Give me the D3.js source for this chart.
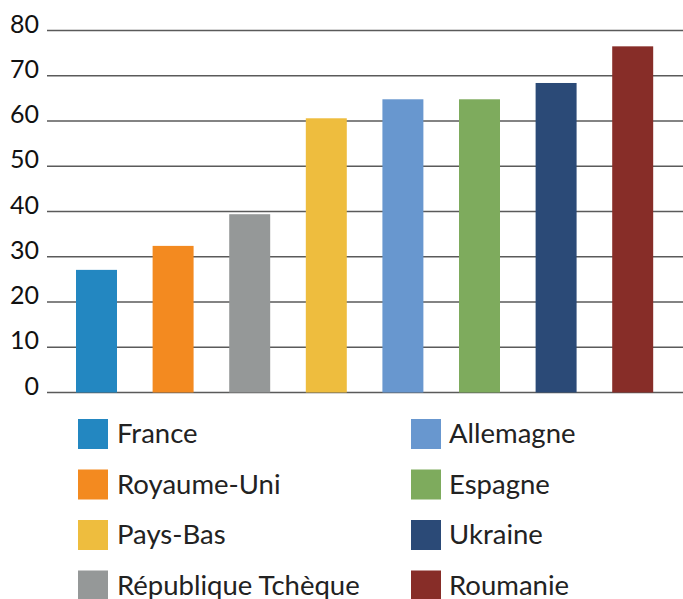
<!DOCTYPE html>
<html>
<head>
<meta charset="utf-8">
<script src="https://cdn.jsdelivr.net/npm/d3@7"></script>
<style>
  body { margin: 0; background: #fff; }
  svg { display: block; }
</style>
</head>
<body>
<div id="chart"></div>
<script>
const countries = ['France', 'Royaume-Uni', 'République Tchèque', 'Pays-Bas', 'Allemagne', 'Espagne', 'Ukraine', 'Roumanie'];
const values = [27.1, 32.4, 39.4, 60.6, 64.8, 64.8, 68.4, 76.5];
const colors = ['#2387c1', '#f38a20', '#959898', '#eebd3e', '#6897cf', '#7eab5d', '#2b4a77', '#872d28'];
const yTicks = [0, 10, 20, 30, 40, 50, 60, 70, 80];
// legend layout: left column then right column
const legendLeft = ['France', 'Royaume-Uni', 'Pays-Bas', 'République Tchèque'];
const legendRight = ['Allemagne', 'Espagne', 'Ukraine', 'Roumanie'];

const width = 683, height = 599;

const svg = d3.select('#chart')
    .append('svg')
    .attr('width', width)
    .attr('height', height);

const x = d3.scaleBand()
    .domain(countries)
    .range([58.2, 671])
    .paddingInner(0.465)
    .paddingOuter(0.2325);

const y = d3.scaleLinear()
    .domain([0, 80])
    .range([392.5, 30.5]);

// gridlines
svg.append('g')
    .selectAll('line')
    .data(yTicks)
    .enter()
    .append('line')
    .attr('x1', 47)
    .attr('x2', width)
    .attr('y1', (d) => y(d))
    .attr('y2', (d) => y(d))
    .attr('stroke', '#5a5a5a')
    .attr('stroke-width', 1.6);

// tick labels
svg.append('g')
    .selectAll('text')
    .data(yTicks)
    .enter()
    .append('text')
    .attr('x', 39)
    .attr('y', (d) => y(d) + 2)
    .attr('text-anchor', 'end')
    .style('font-family', 'Lato, sans-serif')
    .style('font-size', '25px')
    .style('fill', '#111')
    .text((d) => d);

// bars
svg.append('g')
    .selectAll('rect')
    .data(countries)
    .enter()
    .append('rect')
    .attr('x', (d) => x(d))
    .attr('width', x.bandwidth())
    .attr('y', (d, i) => y(values[i]))
    .attr('height', (d, i) => y(0) - y(values[i]))
    .attr('fill', (d, i) => colors[i]);

// legend
const drawLegend = (items, swatchX, textX) => {
    const g = svg.append('g');
    items.forEach((name, i) => {
        const top = 419 + i * 50.5;
        const c = colors[countries.indexOf(name)];
        g.append('rect')
            .attr('x', swatchX)
            .attr('y', top)
            .attr('width', 30)
            .attr('height', 30)
            .attr('fill', c);
        g.append('text')
            .attr('x', textX)
            .attr('y', top + 24)
            .style('font-family', 'Lato, sans-serif')
            .style('font-size', '27.5px')
            .style('fill', '#222')
            .text(name);
    });
};

drawLegend(legendLeft, 78, 117);
drawLegend(legendRight, 411, 449);
</script>
</body>
</html>
